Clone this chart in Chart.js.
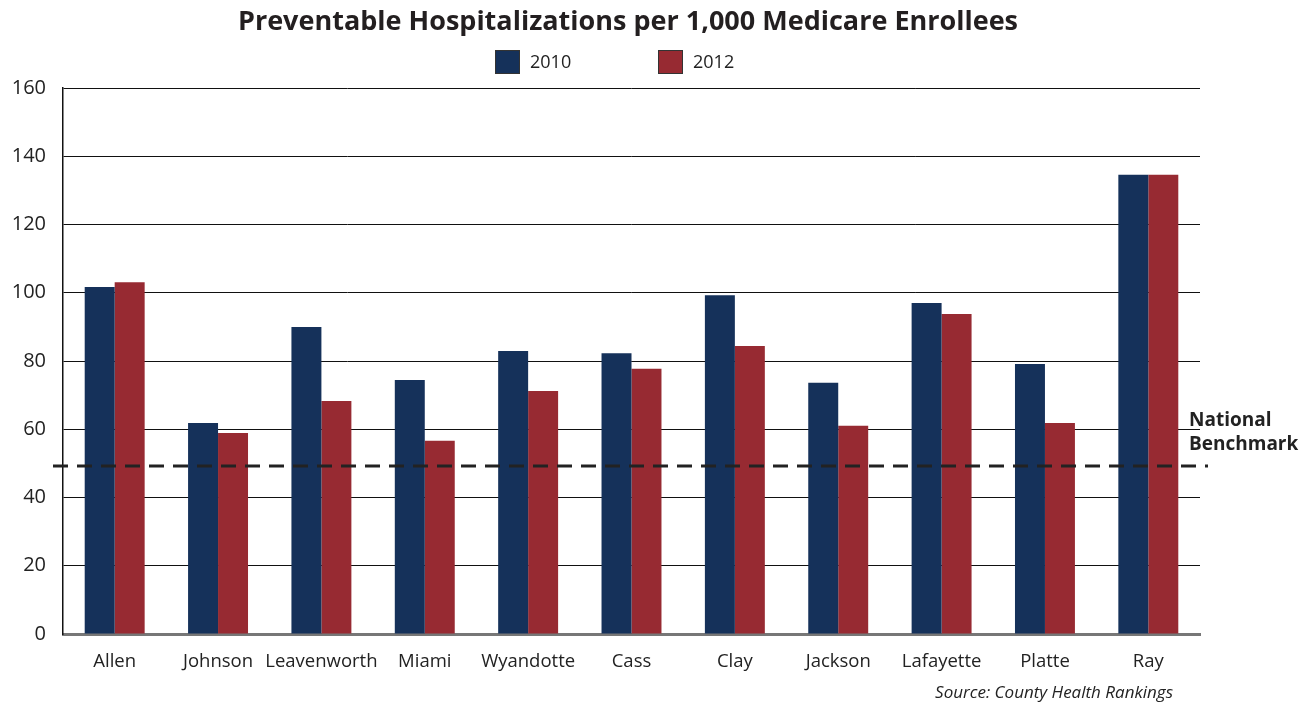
<!DOCTYPE html>
<html>
<head>
<meta charset="utf-8">
<script src="https://cdn.jsdelivr.net/npm/chart.js@4/dist/chart.umd.min.js"></script>
<style>
html,body{margin:0;padding:0;background:#fff;}
#wrap{width:1312px;height:703px;position:relative;}
</style>
</head>
<body>
<div id="wrap"><canvas id="c" width="1312" height="703"></canvas></div>
<script>
const titleText = "Preventable Hospitalizations per 1,000 Medicare Enrollees";
const sourceText = "Source: County Health Rankings";
const categories = ["Allen","Johnson","Leavenworth","Miami","Wyandotte","Cass","Clay","Jackson","Lafayette","Platte","Ray"];
const seriesNames = ["2010","2012"];
const values2010 = [101.7, 61.8, 90.0, 74.4, 82.9, 82.3, 99.3, 73.6, 97.0, 79.1, 134.6];
const values2012 = [103.1, 58.9, 68.3, 56.6, 71.2, 77.7, 84.4, 61.0, 93.8, 61.8, 134.6];
const benchmarkValue = 49.2;
const benchmarkLabel = ["National", "Benchmark"];
const yTicks = [0, 20, 40, 60, 80, 100, 120, 140, 160];

const navy = "#15315A";
const red = "#972A32";

const overlay = {
  id: "overlay",
  afterDraw(chart) {
    const ctx = chart.ctx;
    const a = chart.chartArea;
    const y = chart.scales.y.getPixelForValue(benchmarkValue);
    ctx.save();
    ctx.strokeStyle = "#222";
    ctx.lineWidth = 3;
    ctx.setLineDash([15, 9]);
    ctx.beginPath();
    ctx.moveTo(a.left - 10, y);
    ctx.lineTo(a.right + 8, y);
    ctx.stroke();
    ctx.setLineDash([]);
    ctx.fillStyle = "#222";
    ctx.font = "bold 19px 'Open Sans'";
    ctx.textBaseline = "middle";
    ctx.textAlign = "left";
    ctx.fillText(benchmarkLabel[0], a.right - 11, y - 46);
    ctx.fillText(benchmarkLabel[1], a.right - 11, y - 22);
    ctx.font = "bold 27px 'Open Sans'";
    ctx.textAlign = "center";
    ctx.fillStyle = "#231F20";
    ctx.fillText(titleText, 628, 22);
    const items = [{x: 495, c: navy, t: seriesNames[0]}, {x: 658, c: red, t: seriesNames[1]}];
    ctx.font = "18px 'Open Sans'";
    ctx.textAlign = "left";
    items.forEach(it => {
      ctx.fillStyle = it.c;
      ctx.fillRect(it.x, 50, 25, 24);
      ctx.strokeStyle = "#333";
      ctx.lineWidth = 1;
      ctx.strokeRect(it.x + 0.5, 50.5, 24, 23);
      ctx.fillStyle = "#222";
      ctx.fillText(it.t, it.x + 35, 63);
    });
    ctx.font = "italic 17px 'Open Sans'";
    ctx.textAlign = "right";
    ctx.fillStyle = "#222";
    ctx.fillText(sourceText, 1173, 693);
    ctx.restore();
  }
};

new Chart(document.getElementById("c"), {
  type: "bar",
  data: {
    labels: categories,
    datasets: [
      {label: seriesNames[0], data: values2010, backgroundColor: navy, borderWidth: 0},
      {label: seriesNames[1], data: values2012, backgroundColor: red, borderWidth: 0}
    ]
  },
  options: {
    responsive: false,
    animation: false,
    devicePixelRatio: 1,
    layout: {padding: {top: 88, right: 112, left: 8, bottom: 0}},
    plugins: {legend: {display: false}, title: {display: false}, tooltip: {enabled: false}},
    datasets: {bar: {categoryPercentage: 0.58, barPercentage: 1.0}},
    scales: {
      x: {
        grid: {display: false, drawTicks: false},
        border: {color: "#777", width: 3},
        ticks: {color: "#222", font: {family: "'Open Sans'", size: 18.5}, padding: 17, maxRotation: 0, minRotation: 0, autoSkip: false},
        afterFit(s) { s.height = 69; }
      },
      y: {
        min: 0, max: 160,
        afterBuildTicks(s) { s.ticks = yTicks.map(v => ({value: v})); },
        grid: {color: "#111", lineWidth: 1, drawTicks: false, tickLength: 0},
        border: {color: "#111", width: 1.5},
        ticks: {color: "#222", font: {family: "'Open Sans'", size: 20}, padding: 17},
        afterFit(s) { s.width = 55; }
      }
    }
  },
  plugins: [overlay]
});
</script>
</body>
</html>
